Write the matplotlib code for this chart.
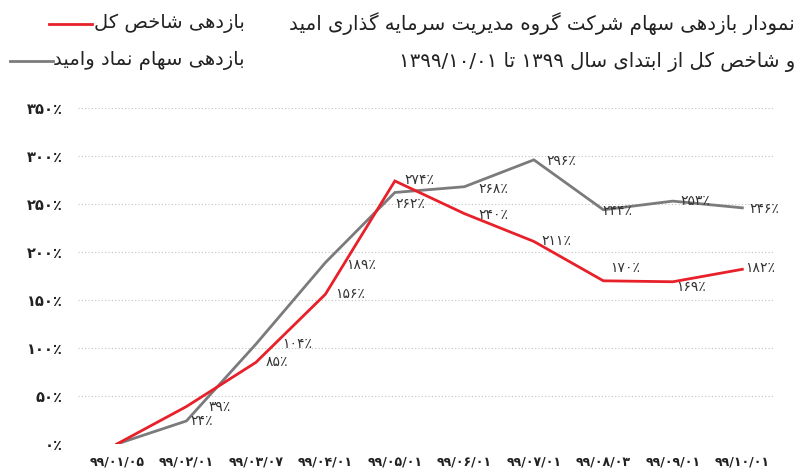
import matplotlib
matplotlib.use("Agg")
import matplotlib.pyplot as plt
from matplotlib.lines import Line2D

plt.rcParams['font.family'] = ['DejaVu Sans']

# ---------------- data ----------------
dates = ["۹۹/۰۱/۰۵", "۹۹/۰۲/۰۱", "۹۹/۰۳/۰۷", "۹۹/۰۴/۰۱", "۹۹/۰۵/۰۱",
         "۹۹/۰۶/۰۱", "۹۹/۰۷/۰۱", "۹۹/۰۸/۰۳", "۹۹/۰۹/۰۱", "۹۹/۱۰/۰۱"]
index_returns = [0, 39, 85, 156, 274, 240, 211, 170, 169, 182]     # بازدهی شاخص کل
stock_returns = [0, 24, 104, 189, 262, 268, 296, 244, 253, 246]    # بازدهی سهام وامید
y_ticks = [0, 50, 100, 150, 200, 250, 300, 350]

title_line1 = "نمودار بازدهی سهام شرکت گروه مدیریت سرمایه گذاری امید"
title_line2 = "و شاخص کل از ابتدای سال ۱۳۹۹ تا ۱۳۹۹/۱۰/۰۱"
legend_index = "بازدهی شاخص کل"
legend_stock = "بازدهی سهام نماد وامید"

# label offsets in points (dx, dy) – style only
index_label_off = [None, (24, 0), (15, 0), (18, 0), (18, 1), (21, -1), (16, 0), (16, 9), (13, -4), (13, 1)]
stock_label_off = [None, (11, 0), (30, 0), (26, -2), (11, -8), (21, -2), (20, -1), (10, -1), (16, 0), (16, -1)]

# ---------------- simple Persian shaping ----------------
FORMS = {
    'ا': ('\uFE8D', '\uFE8E', None, None),
    'ب': ('\uFE8F', '\uFE90', '\uFE91', '\uFE92'),
    'ت': ('\uFE95', '\uFE96', '\uFE97', '\uFE98'),
    'خ': ('\uFEA5', '\uFEA6', '\uFEA7', '\uFEA8'),
    'د': ('\uFEA9', '\uFEAA', None, None),
    'ذ': ('\uFEAB', '\uFEAC', None, None),
    'ر': ('\uFEAD', '\uFEAE', None, None),
    'ز': ('\uFEAF', '\uFEB0', None, None),
    'س': ('\uFEB1', '\uFEB2', '\uFEB3', '\uFEB4'),
    'ش': ('\uFEB5', '\uFEB6', '\uFEB7', '\uFEB8'),
    'ص': ('\uFEB9', '\uFEBA', '\uFEBB', '\uFEBC'),
    'ل': ('\uFEDD', '\uFEDE', '\uFEDF', '\uFEE0'),
    'م': ('\uFEE1', '\uFEE2', '\uFEE3', '\uFEE4'),
    'ن': ('\uFEE5', '\uFEE6', '\uFEE7', '\uFEE8'),
    'ه': ('\uFEE9', '\uFEEA', '\uFEEB', '\uFEEC'),
    'و': ('\uFEED', '\uFEEE', None, None),
    'ک': ('\uFB8E', '\uFB8F', '\uFB90', '\uFB91'),
    'گ': ('\uFB92', '\uFB93', '\uFB94', '\uFB95'),
    'ی': ('\uFBFC', '\uFBFD', '\uFBFE', '\uFBFF'),
}
RIGHT_ONLY = set('ادذرزو')


def shape_word(w):
    out = []
    n = len(w)
    for i, ch in enumerate(w):
        if ch not in FORMS:
            out.append(ch)
            continue
        prev = w[i - 1] if i > 0 else None
        nxt = w[i + 1] if i < n - 1 else None
        jp = prev in FORMS and prev not in RIGHT_ONLY
        jn = nxt in FORMS and ch not in RIGHT_ONLY
        iso, fin, ini, med = FORMS[ch]
        if jp and jn:
            out.append(med)
        elif jp:
            out.append(fin)
        elif jn:
            out.append(ini)
        else:
            out.append(iso)
    return ''.join(out)


def rtl(s):
    toks = s.split(' ')
    vis = []
    for t in reversed(toks):
        if any(c in FORMS for c in t):
            vis.append(shape_word(t)[::-1])
        else:
            vis.append(t)
    return ' '.join(vis)


def fa_num(v):
    digits = '۰۱۲۳۴۵۶۷۸۹'
    return ''.join(digits[int(c)] for c in str(v))


# ---------------- figure ----------------
W, H = 808, 473
fig = plt.figure(figsize=(W / 100, H / 100), dpi=100)
ax = fig.add_axes([78 / W, 1 - 444 / H, (775 - 78) / W, (444 - 108) / H])

x = list(range(len(dates)))
red = '#e8202a'
gray = '#7b7b7d'
ax.plot(x, stock_returns, color=gray, lw=2.0, solid_joinstyle='miter', zorder=3)
ax.plot(x, index_returns, color=red, lw=2.0, solid_joinstyle='miter', zorder=4)

ax.set_xlim(-0.56, 9.47)
ax.set_ylim(0, 350)
ax.set_yticks(y_ticks)
ax.set_yticklabels([fa_num(v) + '٪' for v in y_ticks], fontsize=10.5, fontweight='bold', color='#222222')
ax.set_xticks(x)
ax.set_xticklabels(dates, fontsize=9, fontweight='bold', color='#222222')
ax.tick_params(length=0, pad=11)
ax.tick_params(axis='x', pad=8)
for s in ax.spines.values():
    s.set_visible(False)
ax.grid(axis='y', linestyle=(0, (1, 2)), color='#c0c0c0', lw=0.8)
ax.set_axisbelow(True)

for i in range(1, len(x)):
    dx, dy = index_label_off[i]
    ax.annotate(fa_num(index_returns[i]) + '٪', (x[i], index_returns[i]), xytext=(dx, dy),
                textcoords='offset points', ha='center', va='center', fontsize=10, color='#333333', zorder=5)
    dx, dy = stock_label_off[i]
    ax.annotate(fa_num(stock_returns[i]) + '٪', (x[i], stock_returns[i]), xytext=(dx, dy),
                textcoords='offset points', ha='center', va='center', fontsize=10, color='#333333', zorder=5)

# titles
fig.text(795 / W, 1 - 24 / H, rtl(title_line1), ha='right', va='center', fontsize=14.2, color='#222222')
fig.text(795 / W, 1 - 62 / H, rtl(title_line2), ha='right', va='center', fontsize=14.2, color='#222222')

# legend
fig.text(245 / W, 1 - 23 / H, rtl(legend_index), ha='right', va='center', fontsize=14, color='#222222')
fig.text(245 / W, 1 - 61 / H, rtl(legend_stock), ha='right', va='center', fontsize=14, color='#222222')
fig.add_artist(Line2D([49 / W, 92 / W], [1 - 24 / H, 1 - 24 / H], color=red, lw=2.0, transform=fig.transFigure))
fig.add_artist(Line2D([10 / W, 53 / W], [1 - 61 / H, 1 - 61 / H], color=gray, lw=2.0, transform=fig.transFigure))

fig.savefig('out.png', dpi=100)
